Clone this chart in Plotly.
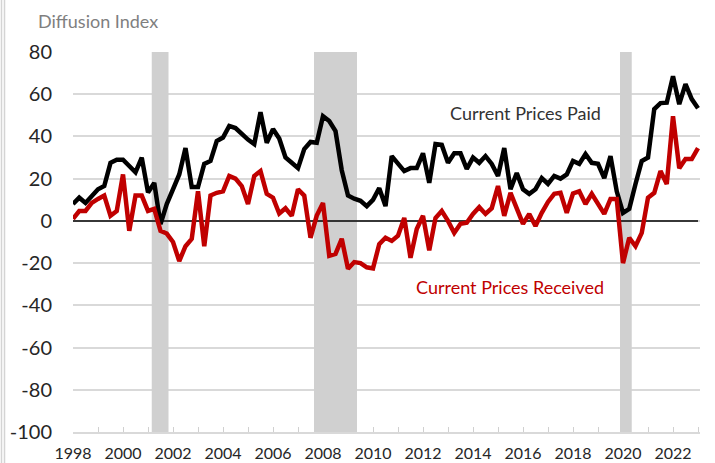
import plotly.graph_objects as go

# Quarterly, 1998Q1 .. 2023Q1
start_year = 1998
paid = [8, 11, 8.5, 12, 15, 16.5, 27.5, 29, 29, 26, 23, 30, 13.5, 18, -1.5,
        8, 15, 22, 34.5, 16, 16, 27, 28.4, 37.8, 39.5, 45, 44, 41, 38.5, 36.4,
        51.5, 37, 43.5, 39, 30, 27.5, 25, 34, 37.4, 37, 49.6, 47.3, 42.5, 24, 12,
        10.5, 9.5, 7, 10, 15.5, 7, 30.7, 27.5, 23.6, 25, 25, 32, 18, 36.4, 36,
        27.5, 32, 32, 24.6, 30, 27.5, 30.7, 27, 21.3, 34.5, 15, 22.7, 15, 12.8, 15,
        20.3, 17.5, 21.3, 20, 22, 28.4, 27, 31.7, 27.5, 27, 20.3, 30.7, 14, 3.8, 5.7,
        17.5, 28.4, 30, 53, 55.8, 56, 68.5, 55.3, 64.8, 57.7, 53.4]
received = [1, 4.7, 4.7, 8.5, 10.4, 12, 2.4, 4.7, 22, -4.7, 12, 12, 4.7, 5.7, -4.7,
            -6, -10, -19, -12, -8.5, 14, -12, 12, 13.3, 14, 21.3, 20, 16.5, 8, 21.3,
            23.6, 12.8, 11, 3.5, 6, 2.4, 15, 12, -8, 2.5, 8.5, -16.5, -15.6, -8.5, -22.7,
            -19.5, -20, -22, -22.5, -11, -8, -9.5, -7, 1.4, -17.5, -3.8, 2.4, -14, 1.4, 4.7,
            0, -5.7, -1.4, -0.9, 3.3, 6.5, 3.3, 6, 16.5, 2.4, 13.3, 6, -1.4, 3.3, -2.4,
            3.8, 9, 12.8, 13.3, 3.8, 13, 14, 8, 12.8, 8, 3.3, 10.4, 10.4, -20, -8,
            -12, -5.7, 11, 13.3, 23.6, 17.5, 49.6, 25, 29.3, 29.3, 34.5]
dates = [start_year + 0.25 * k for k in range(len(paid))]

recessions = [(2001.15, 2001.82), (2007.64, 2009.36), (2019.88, 2020.35)]
y_ticks = [80, 60, 40, 20, 0, -20, -40, -60, -80, -100]
x_label_years = list(range(1998, 2023, 2))
x_tick_years = list(range(1998, 2024))

XMIN, XMAX = 1998.0, 2023.08
YMIN, YMAX = -100, 80
W, H = 715, 463
ML, MR, MT, MB = 73, 15, 52, 31
PW = W - ML - MR
PH = H - MT - MB

FONT = "Lato, 'Open Sans', sans-serif"

fig = go.Figure()
fig.add_trace(go.Scatter(x=dates, y=paid, mode="lines",
                         line=dict(color="#000000", width=4.5),
                         name="Current Prices Paid", showlegend=False))
fig.add_trace(go.Scatter(x=dates, y=received, mode="lines",
                         line=dict(color="#c00000", width=4.5),
                         name="Current Prices Received", showlegend=False))

shapes = []
for a, b in recessions:
    shapes.append(dict(type="rect", xref="x", yref="y", x0=a, x1=b, y0=YMIN, y1=YMAX,
                       fillcolor="#d0d0d0", line=dict(width=0), layer="between"))
shapes.append(dict(type="line", xref="x", yref="y", x0=XMIN, x1=XMAX - 0.08, y0=0, y1=0,
                   line=dict(color="#000000", width=1.5), layer="between"))
# outer left border lines
for px in (1.5, 4.5):
    xp = (px - ML) / PW
    shapes.append(dict(type="line", xref="paper", yref="paper", x0=xp, x1=xp,
                       y0=-MB / PH, y1=(PH + MT) / PH,
                       line=dict(color="#d4d4d4", width=1.5), layer="above"))

xticktext = [str(y) if y in x_label_years else "" for y in x_tick_years]

fig.update_layout(
    width=W, height=H,
    margin=dict(l=ML, r=MR, t=MT, b=MB, autoexpand=False),
    paper_bgcolor="white", plot_bgcolor="white",
    font=dict(family=FONT, color="#262626"),
    shapes=shapes,
    xaxis=dict(range=[XMIN, XMAX], tickmode="array", tickvals=x_tick_years,
               ticktext=xticktext, ticks="inside", ticklen=5, tickwidth=1.2,
               tickcolor="#d0d0d0", showline=True, linecolor="#d9d9d9", linewidth=1.5,
               showgrid=False, zeroline=False, tickangle=0, automargin=False,
               tickfont=dict(size=16, family=FONT, color="#262626"),
               ticklabelstandoff=6),
    yaxis=dict(range=[YMIN, YMAX], tickmode="array", tickvals=y_ticks,
               ticktext=[str(v) for v in y_ticks], automargin=False,
               showgrid=True, gridcolor="#d9d9d9", gridwidth=1.5,
               zeroline=False, showline=False, ticks="",
               tickfont=dict(size=20, family=FONT, color="#262626"),
               ticklabelstandoff=20),
    annotations=[
        dict(text="Diffusion Index", xref="paper", yref="paper",
             x=(36 - ML) / PW, y=(PH + MT - 21) / PH, xanchor="left", yanchor="middle",
             showarrow=False, font=dict(size=18, family=FONT, color="#7f7f7f")),
        dict(text="Current Prices Paid", xref="x", yref="y",
             x=2016.08, y=51, xanchor="center", yanchor="middle", showarrow=False,
             font=dict(size=18, family=FONT, color="#333333")),
        dict(text="Current Prices Received", xref="x", yref="y",
             x=2015.48, y=-31.5, xanchor="center", yanchor="middle", showarrow=False,
             font=dict(size=18, family=FONT, color="#c00000")),
    ],
)

fig.write_html("out.html", config={"displayModeBar": False},
               post_script="document.body.style.margin='0';document.body.style.padding='0';")
